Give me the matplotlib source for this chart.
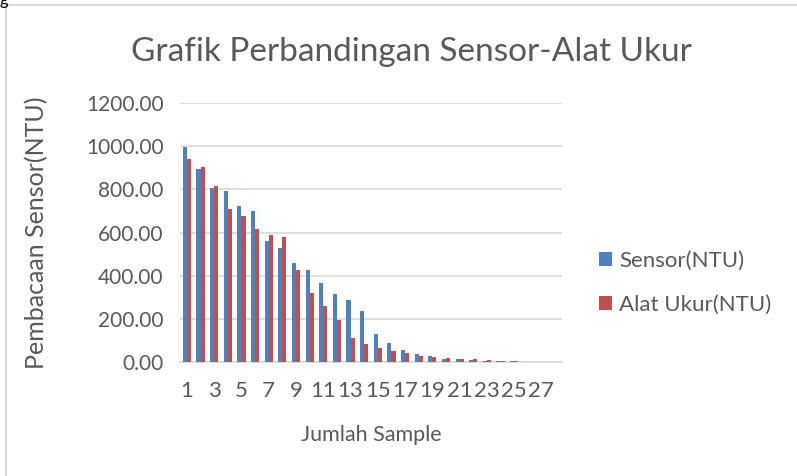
import numpy as np
import matplotlib.pyplot as plt
from matplotlib.patches import Rectangle

# data
samples = list(range(1, 29))
sensor = [997, 895, 805, 794, 721, 698, 561, 529, 457, 427, 365, 317, 285, 237,
          129, 87, 56, 36, 28, 16, 14, 11, 6, 6, 5, 2, 1, 0.5]
alat_ukur = [941, 905, 817, 709, 678, 616, 589, 581, 426, 319, 261, 194, 110, 83,
             65, 51, 42, 29, 23, 19, 16, 14, 9, 6, 5, 2, 1, 0.5]
tick_labels = [str(s) for s in samples if s % 2 == 1]

plt.rcParams['font.family'] = ['Lato', 'DejaVu Sans']
grey = '#595959'

fig = plt.figure(figsize=(7.97, 4.76), dpi=100)
ax = fig.add_axes([0.226, 0.2395, 0.479, 0.5441])

x = np.arange(len(samples))
w = 0.3
ax.bar(x - w / 2, sensor, w, color='#4F81BD', label='Sensor(NTU)', zorder=3)
ax.bar(x + w / 2, alat_ukur, w, color='#C0504D', label='Alat Ukur(NTU)', zorder=3)

ax.set_xlim(-0.5, len(samples) - 0.5)
ax.set_ylim(0, 1200)
ax.set_yticks(np.arange(0, 1201, 200))
ax.set_yticklabels(['%.2f' % v for v in np.arange(0, 1201, 200)])
ax.set_xticks([i for i in x if samples[i] % 2 == 1])
ax.set_xticklabels(tick_labels)
ax.grid(axis='y', color='#D9D9D9', lw=1.2, zorder=0)
for s in ['top', 'right', 'left']:
    ax.spines[s].set_visible(False)
ax.spines['bottom'].set_color('#D9D9D9')
ax.spines['bottom'].set_linewidth(1.2)
ax.tick_params(axis='both', length=0, colors=grey)
ax.tick_params(axis='y', labelsize=15, pad=12)
ax.tick_params(axis='x', labelsize=16, pad=14)

ax.set_xlabel('Jumlah Sample', fontsize=15.5, color=grey, labelpad=17)
ax.set_ylabel('Pembacaan Sensor(NTU)', fontsize=18, color=grey, labelpad=27)
fig.text(0.516, 0.89, 'Grafik Perbandingan Sensor-Alat Ukur', fontsize=24,
         color=grey, ha='center', va='center')

ax.legend(loc='center left', bbox_to_anchor=(1.045, 0.305), frameon=False,
          fontsize=16, labelcolor=grey, handlelength=0.6, handleheight=0.6,
          handletextpad=0.3, labelspacing=1.1)

# chart border (only top and left edges are visible in the crop)
fig.patches.append(Rectangle((0.0075, -0.0105), 1.0, 1.0, fill=False,
                             ec='#D9D9D9', lw=1.5, transform=fig.transFigure))
fig.text(0.0, 1.0, 'g', fontsize=12, color='black', ha='left', va='center')

fig.savefig('out.png', dpi=100)
